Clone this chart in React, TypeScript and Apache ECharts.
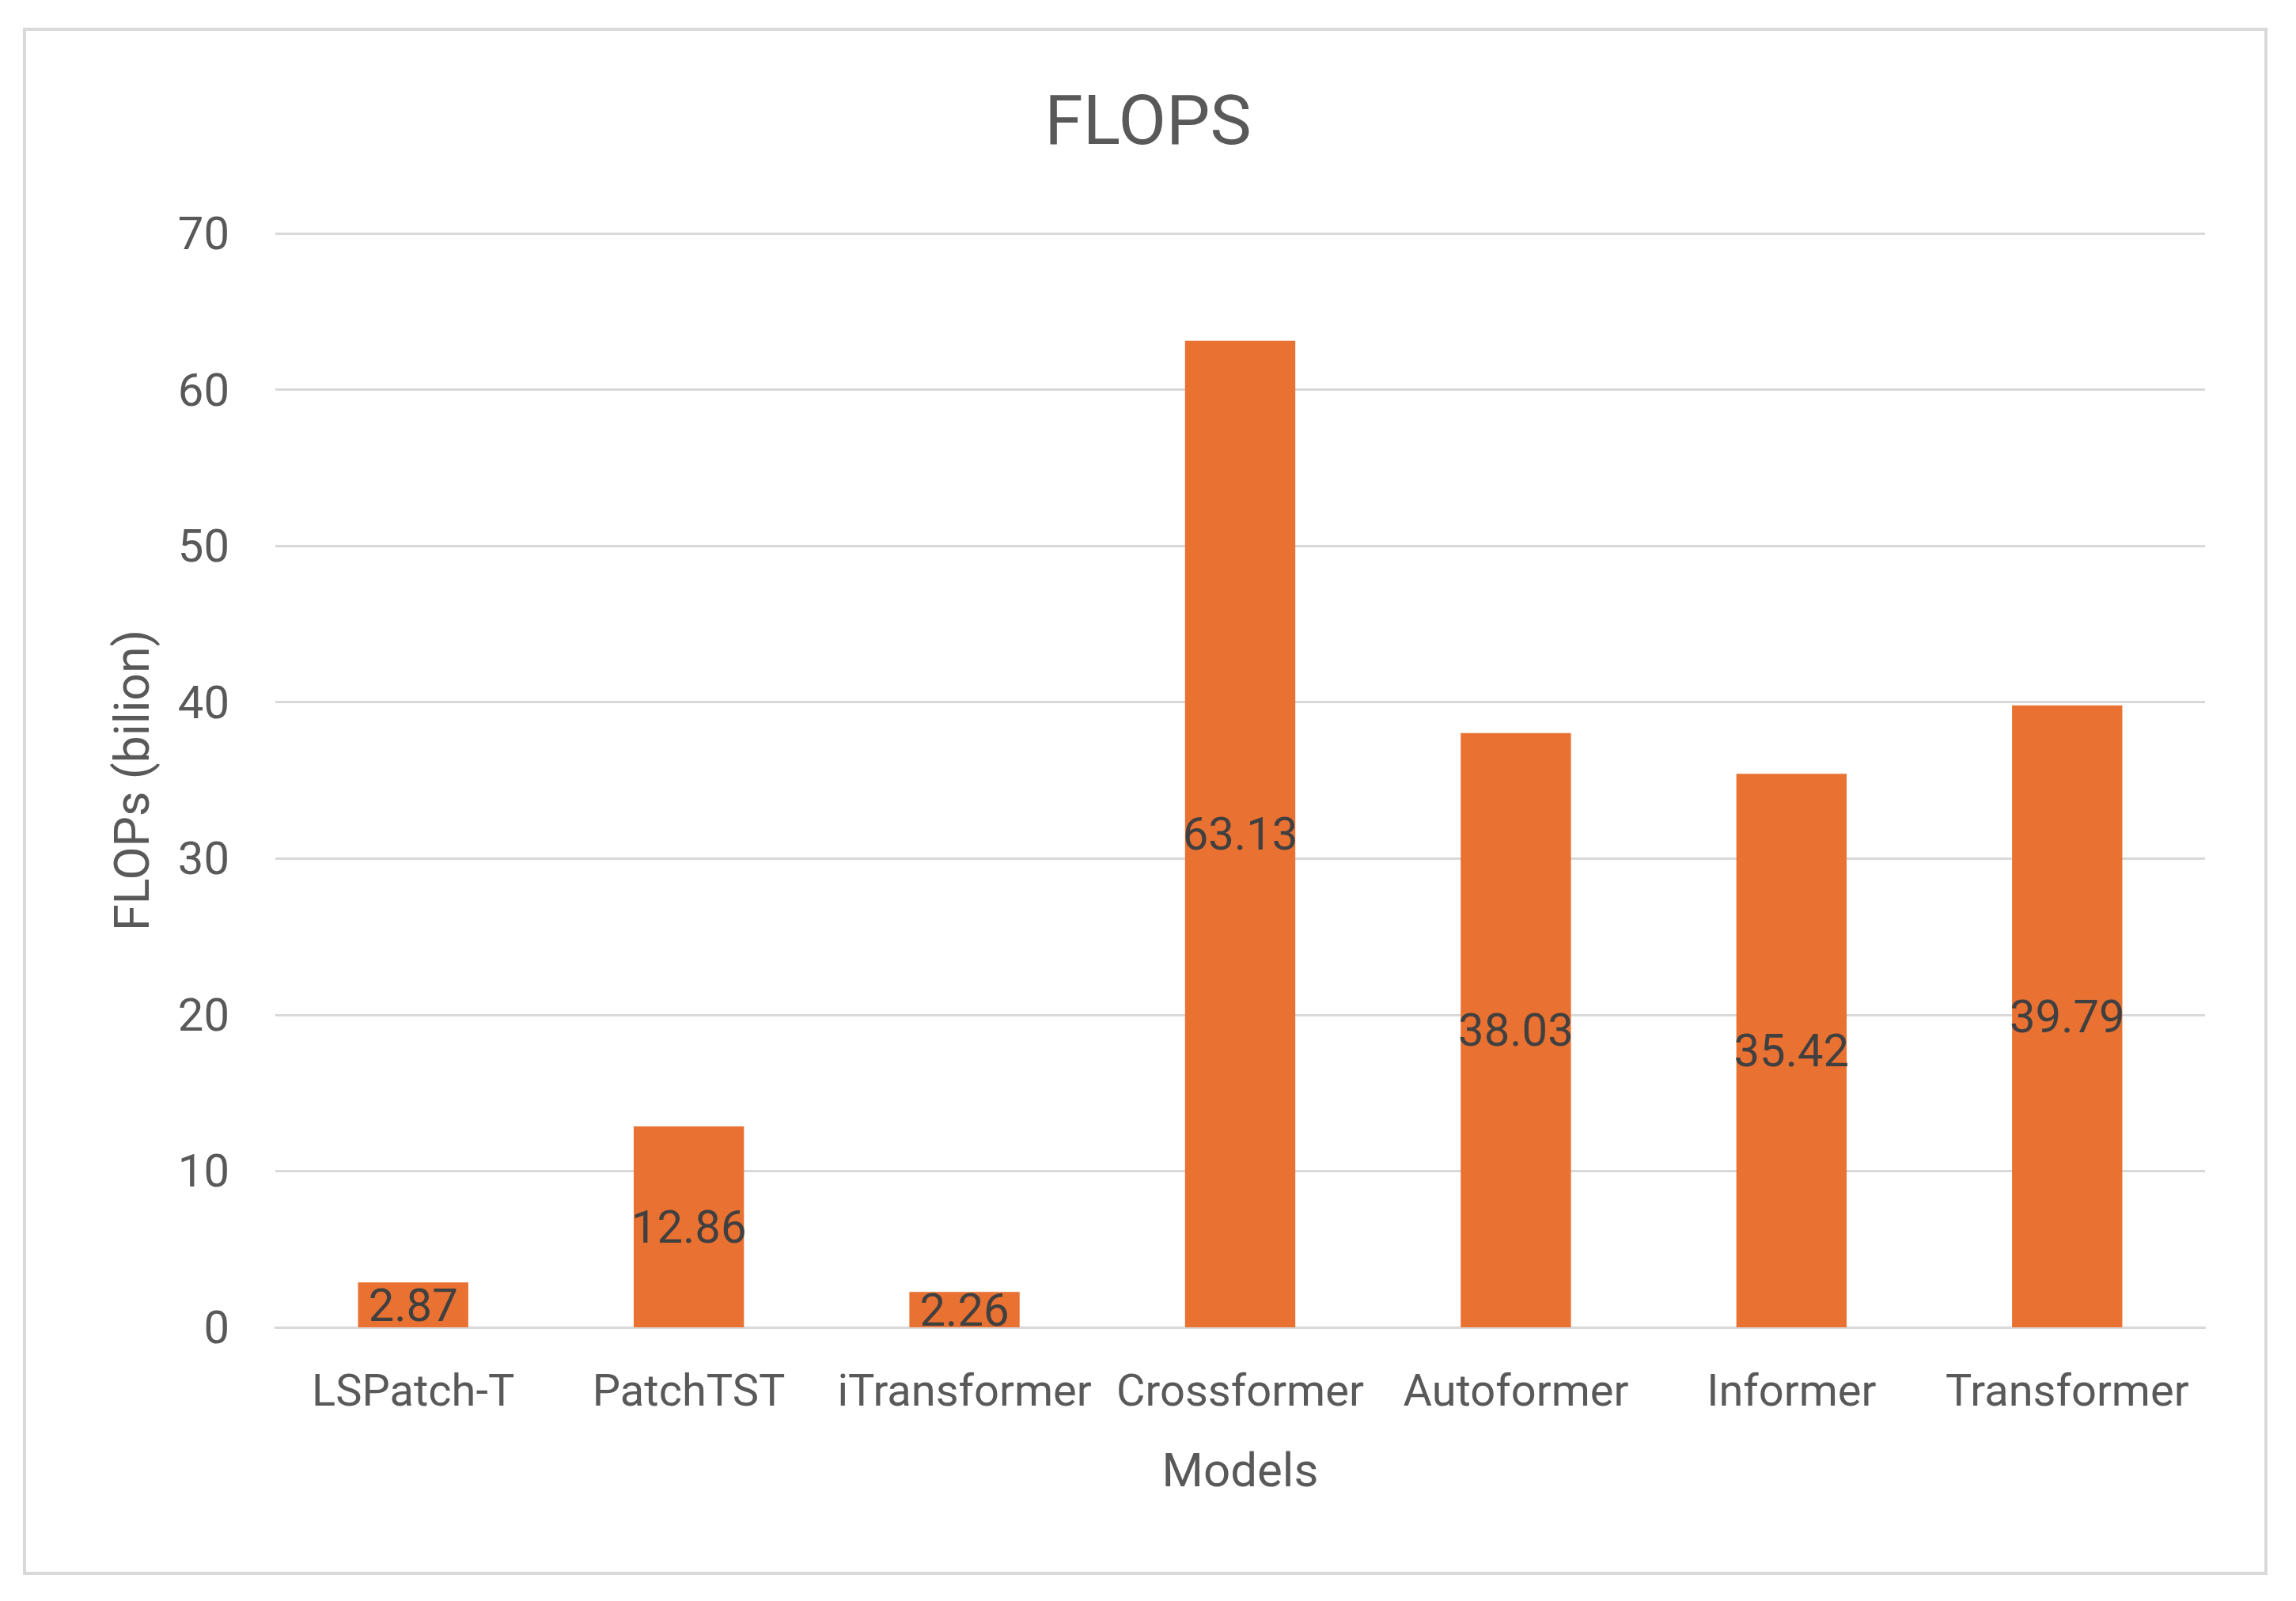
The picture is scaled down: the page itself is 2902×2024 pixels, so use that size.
import React, { useEffect, useRef } from "react";
import * as echarts from "echarts";

const categories = ["LSPatch-T", "PatchTST", "iTransformer", "Crossformer", "Autoformer", "Informer", "Transformer"];
const flops = [2.87, 12.86, 2.26, 63.13, 38.03, 35.42, 39.79];
const yTicks = { min: 0, max: 70, interval: 10 };

const FONT = "Roboto, 'Noto Sans', sans-serif";

export default function App() {
  const ref = useRef<HTMLDivElement>(null);
  useEffect(() => {
    if (!ref.current) return;
    const chart = echarts.init(ref.current, undefined, { renderer: "svg" });
    chart.setOption({
      animation: false,
      backgroundColor: "#ffffff",
      textStyle: { fontFamily: FONT },
      title: {
        text: "FLOPS",
        left: "center",
        top: 102,
        textStyle: { fontFamily: FONT, fontSize: 88, fontWeight: "normal", color: "#595959" },
      },
      graphic: [
        {
          type: "rect",
          shape: { x: 31, y: 37, width: 2833, height: 1952 },
          style: { fill: "none", stroke: "#d9d9d9", lineWidth: 4 },
          silent: true,
        },
      ],
      grid: { left: 348, right: 115, top: 295, bottom: 346 },
      xAxis: {
        type: "category",
        data: categories,
        name: "Models",
        nameLocation: "middle",
        nameGap: 150,
        nameTextStyle: { fontFamily: FONT, fontSize: 60, color: "#595959" },
        axisLine: { show: true, lineStyle: { color: "#d9d9d9", width: 3 } },
        axisTick: { show: false },
        axisLabel: { fontFamily: FONT, fontSize: 56, color: "#595959", margin: 52, interval: 0 },
      },
      yAxis: {
        type: "value",
        min: yTicks.min,
        max: yTicks.max,
        interval: yTicks.interval,
        name: "FLOPs (bilion)",
        nameLocation: "middle",
        nameGap: 151,
        nameTextStyle: { fontFamily: FONT, fontSize: 61, color: "#595959" },
        axisLine: { show: false },
        axisTick: { show: false },
        axisLabel: { fontFamily: FONT, fontSize: 58, color: "#595959", margin: 58 },
        splitLine: { lineStyle: { color: "#d9d9d9", width: 3 } },
      },
      series: [
        {
          type: "bar",
          data: flops,
          barWidth: "40%",
          itemStyle: { color: "#E97132" },
          label: {
            show: true,
            position: "inside",
            fontFamily: FONT,
            fontSize: 58,
            color: "#404040",
          },
        },
      ],
    });
    return () => chart.dispose();
  }, []);
  return (
    <div
      ref={ref}
      style={{ position: "fixed", left: 0, top: 0, width: 2902, height: 2024, background: "#fff" }}
    />
  );
}
